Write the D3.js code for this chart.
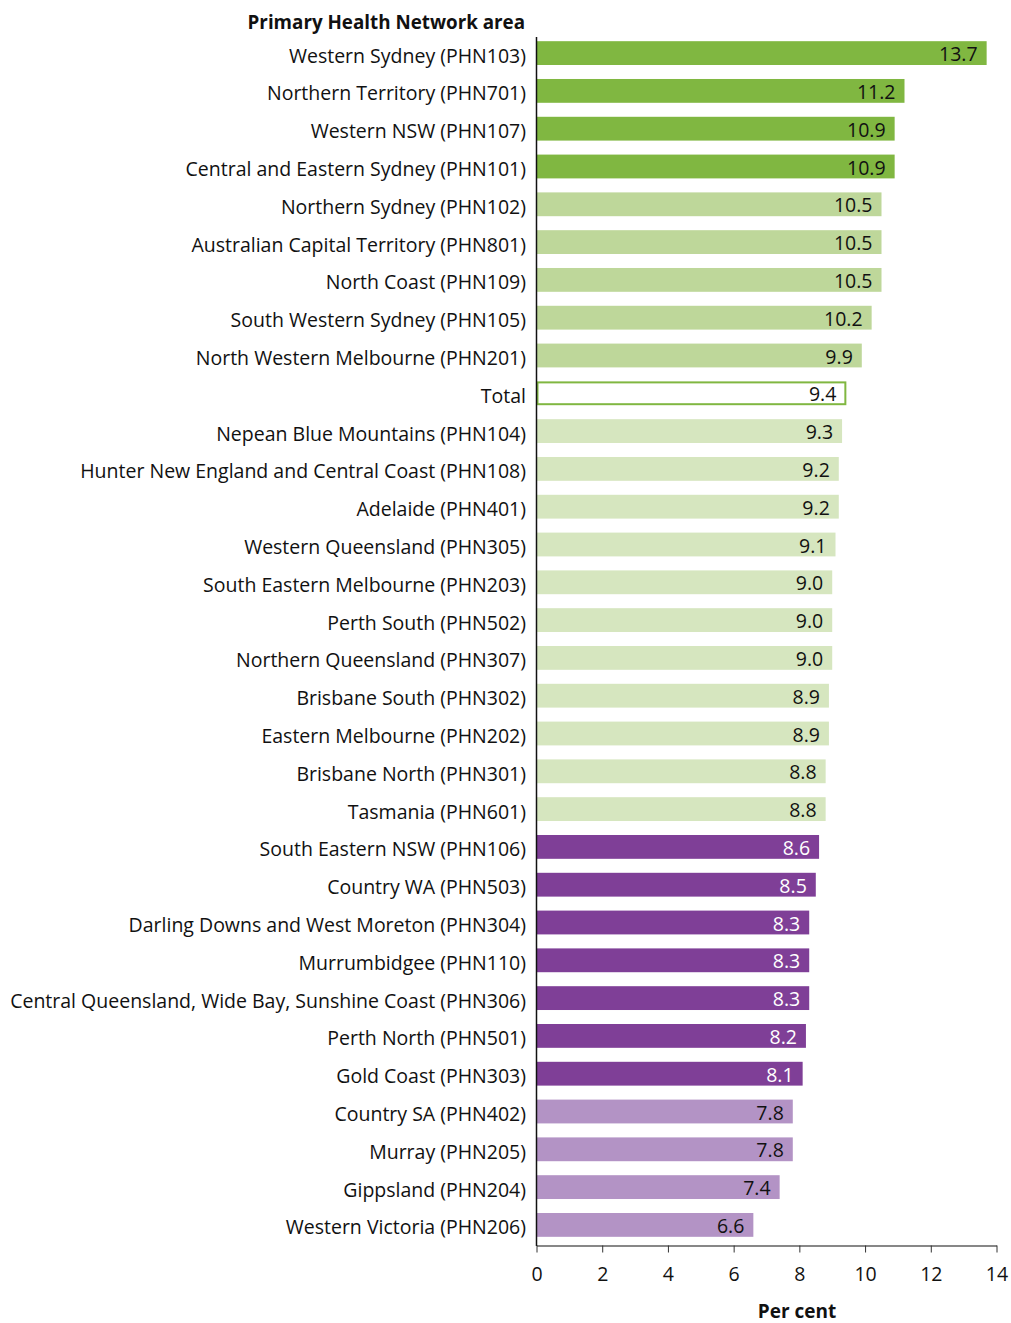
<!DOCTYPE html>
<html><head><meta charset="utf-8">
<script src="https://cdn.jsdelivr.net/npm/d3@7"></script>
<style>
body{margin:0;background:#fff;}
text{font-family:"Open Sans",sans-serif;}
</style></head>
<body><svg id="c" width="1011" height="1323"></svg>
<script>
const categories = ["Western Sydney (PHN103)","Northern Territory (PHN701)","Western NSW (PHN107)","Central and Eastern Sydney (PHN101)","Northern Sydney (PHN102)","Australian Capital Territory (PHN801)","North Coast (PHN109)","South Western Sydney (PHN105)","North Western Melbourne (PHN201)","Total","Nepean Blue Mountains (PHN104)","Hunter New England and Central Coast (PHN108)","Adelaide (PHN401)","Western Queensland (PHN305)","South Eastern Melbourne (PHN203)","Perth South (PHN502)","Northern Queensland (PHN307)","Brisbane South (PHN302)","Eastern Melbourne (PHN202)","Brisbane North (PHN301)","Tasmania (PHN601)","South Eastern NSW (PHN106)","Country WA (PHN503)","Darling Downs and West Moreton (PHN304)","Murrumbidgee (PHN110)","Central Queensland, Wide Bay, Sunshine Coast (PHN306)","Perth North (PHN501)","Gold Coast (PHN303)","Country SA (PHN402)","Murray (PHN205)","Gippsland (PHN204)","Western Victoria (PHN206)"];
const values = [13.7,11.2,10.9,10.9,10.5,10.5,10.5,10.2,9.9,9.4,9.3,9.2,9.2,9.1,9.0,9.0,9.0,8.9,8.9,8.8,8.8,8.6,8.5,8.3,8.3,8.3,8.2,8.1,7.8,7.8,7.4,6.6];
const groups = ["g1","g1","g1","g1","g2","g2","g2","g2","g2","total","g3","g3","g3","g3","g3","g3","g3","g3","g3","g3","g3","p1","p1","p1","p1","p1","p1","p1","p2","p2","p2","p2"];
const xTicks = [0,2,4,6,8,10,12,14];

const fill = {g1:"#80b741",g2:"#bed79a",g3:"#d6e6bf",total:"#ffffff",p1:"#7f3f97",p2:"#b393c5"};
const textCol = {g1:"#111",g2:"#111",g3:"#111",total:"#111",p1:"#fff",p2:"#111"};

const svg = d3.select("#c");
const x = d3.scaleLinear().domain([0,14]).range([536.5,996.5]);
const y = d3.scaleBand().domain(categories).range([34,1244]).paddingInner(0.37).paddingOuter(0.19);

const data = categories.map((c,i)=>({c,v:values[i],g:groups[i]}));

svg.append("g").selectAll("rect").data(data).join("rect")
  .attr("x", d=> d.g==="total" ? x(0)+1 : x(0))
  .attr("y", d=> d.g==="total" ? y(d.c)+1 : y(d.c))
  .attr("width", d=> d.g==="total" ? x(d.v)-x(0)-1 : x(d.v)-x(0))
  .attr("height", d=> d.g==="total" ? y.bandwidth()-2 : y.bandwidth())
  .attr("fill", d=>fill[d.g])
  .attr("stroke", d=> d.g==="total" ? "#80b741" : "none")
  .attr("stroke-width", 2);

svg.append("g").selectAll("text").data(data).join("text")
  .attr("x", d=>x(d.v)-9)
  .attr("y", d=>y(d.c)+y.bandwidth()/2+1)
  .attr("dy","0.36em")
  .attr("text-anchor","end")
  .attr("font-size",19.5)
  .attr("fill", d=>textCol[d.g])
  .text(d=>d.v.toFixed(1));

svg.append("g").selectAll("text").data(data).join("text")
  .attr("x", 526)
  .attr("y", d=>y(d.c)+y.bandwidth()/2+2.5)
  .attr("dy","0.36em")
  .attr("text-anchor","end")
  .attr("font-size",19.5)
  .attr("fill","#111")
  .text(d=>d.c);

svg.append("line").attr("x1",x(0)).attr("x2",x(0)).attr("y1",37).attr("y2",1246)
  .attr("stroke","#111").attr("stroke-width",1.5);

const xa = svg.append("g").attr("transform","translate(0,1245.5)")
  .call(d3.axisBottom(x).tickValues(xTicks).tickSize(7).tickPadding(15).tickSizeOuter(0).tickFormat(d3.format("d")));
xa.select(".domain").attr("stroke","#111").attr("stroke-width",1.2);
xa.selectAll(".tick line").attr("stroke","#333");
xa.selectAll("text").attr("font-size",19.5).attr("fill","#111").style("font-family","'Open Sans',sans-serif");

svg.append("text").attr("x",525).attr("y",29).attr("text-anchor","end")
  .attr("font-size",18.8).attr("font-weight","bold").attr("fill","#111").text("Primary Health Network area");
svg.append("text").attr("x",797).attr("y",1318).attr("text-anchor","middle")
  .attr("font-size",19).attr("font-weight","bold").attr("fill","#111").text("Per cent");
</script></body></html>
